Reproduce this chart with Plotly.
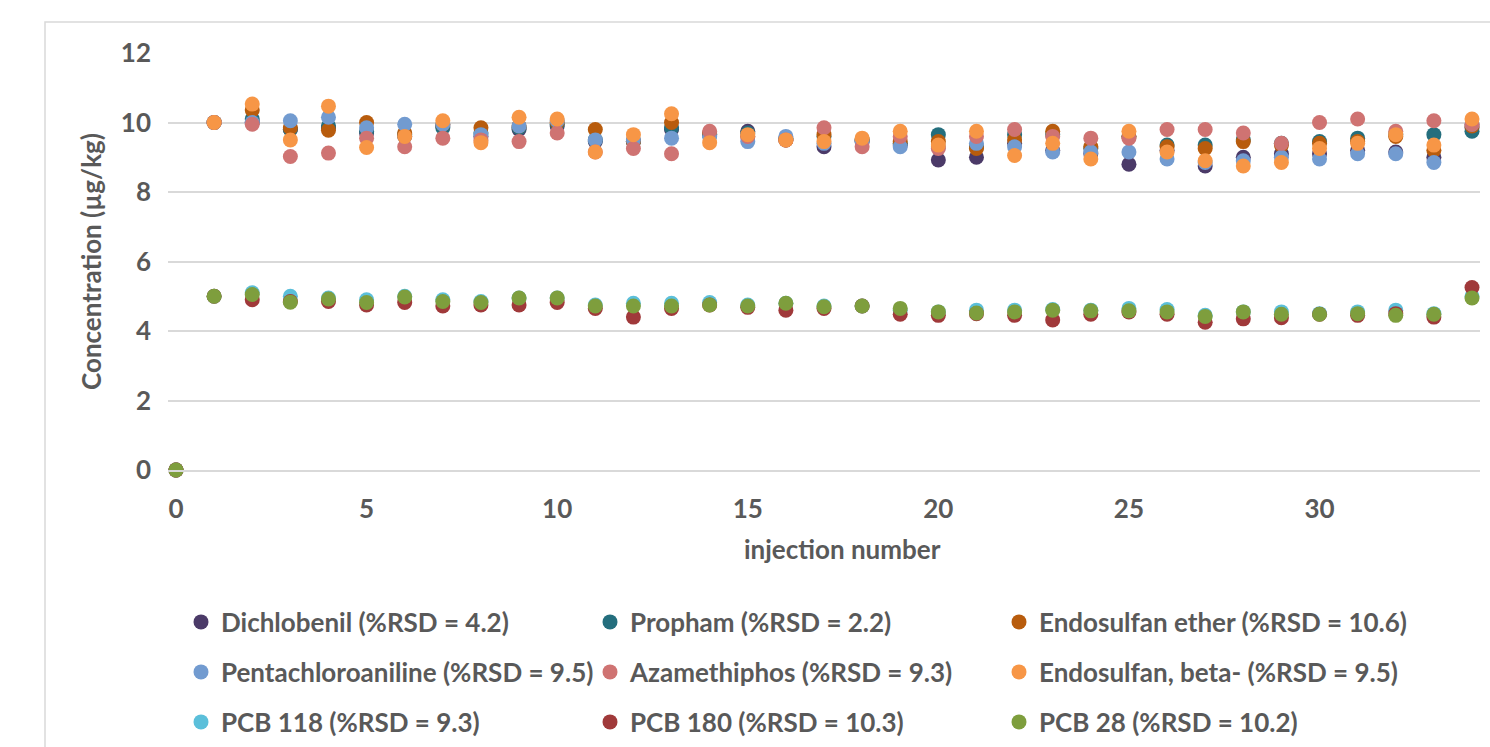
import plotly.graph_objects as go

injection = list(range(35))

dichlobenil = [0, 10.0, 10.0, 9.8, 9.85, 9.7, 9.6, 9.9, 9.6, 9.8, 9.9, 9.45, 9.45, 9.8, 9.65, 9.75,
               9.5, 9.3, 9.45, 9.35, 8.92, 9.0, 9.4, 9.2, 9.1, 8.8, 9.2, 8.75, 9.0, 9.1, 9.1, 9.2,
               9.15, 9.0, 9.85]
propham = [0, 10.0, 10.1, 9.8, 9.9, 9.75, 9.65, 9.85, 9.7, 9.85, 9.95, 9.5, 9.45, 9.85, 9.65, 9.7,
           9.55, 9.6, 9.5, 9.4, 9.65, 9.3, 9.65, 9.65, 9.25, 9.6, 9.35, 9.35, 9.5, 9.4, 9.45, 9.55,
           9.65, 9.65, 9.75]
endosulfan_ether = [0, 10.0, 10.36, 9.85, 9.78, 10.0, 9.7, 9.95, 9.85, 9.9, 10.0, 9.8, 9.45, 10.0, 9.7, 9.6,
                    9.5, 9.65, 9.5, 9.45, 9.45, 9.25, 9.5, 9.75, 9.3, 9.6, 9.3, 9.25, 9.45, 9.35, 9.4, 9.45,
                    9.6, 9.2, 9.9]
pentachloroaniline = [0, 10.0, 10.0, 10.05, 10.15, 9.85, 9.95, 9.95, 9.65, 9.9, 10.05, 9.5, 9.5, 9.55, 9.6, 9.45,
                      9.6, 9.4, 9.45, 9.3, 9.3, 9.4, 9.3, 9.15, 9.15, 9.15, 8.95, 8.85, 8.9, 9.0, 8.95, 9.1,
                      9.1, 8.85, 9.95]
azamethiphos = [0, 10.0, 9.95, 9.02, 9.12, 9.55, 9.3, 9.55, 9.5, 9.45, 9.7, 9.15, 9.25, 9.1, 9.75, 9.6,
                9.5, 9.85, 9.3, 9.6, 9.25, 9.6, 9.8, 9.6, 9.55, 9.55, 9.8, 9.8, 9.7, 9.4, 10.0, 10.1,
                9.75, 10.05, 9.95]
endosulfan_beta = [0, 10.0, 10.53, 9.5, 10.47, 9.28, 9.6, 10.05, 9.42, 10.15, 10.1, 9.15, 9.65, 10.25, 9.42, 9.65,
                   9.5, 9.45, 9.55, 9.75, 9.35, 9.75, 9.05, 9.4, 8.95, 9.75, 9.15, 8.9, 8.75, 8.85, 9.25, 9.4,
                   9.65, 9.35, 10.1]
pcb118 = [0, 5.0, 5.1, 5.0, 4.95, 4.9, 5.0, 4.9, 4.85, 4.95, 4.95, 4.75, 4.8, 4.8, 4.82, 4.75,
          4.8, 4.72, 4.72, 4.6, 4.55, 4.6, 4.6, 4.62, 4.6, 4.65, 4.62, 4.45, 4.55, 4.55, 4.5, 4.55,
          4.6, 4.5, 5.0]
pcb180 = [0, 5.0, 4.9, 4.85, 4.85, 4.75, 4.82, 4.72, 4.75, 4.75, 4.82, 4.65, 4.4, 4.65, 4.75, 4.68,
          4.6, 4.65, 4.72, 4.48, 4.45, 4.5, 4.45, 4.32, 4.48, 4.55, 4.48, 4.25, 4.35, 4.38, 4.48, 4.45,
          4.5, 4.4, 5.25]
pcb28 = [0, 5.0, 5.05, 4.83, 4.92, 4.82, 4.98, 4.85, 4.82, 4.95, 4.95, 4.72, 4.72, 4.72, 4.75, 4.72,
         4.8, 4.7, 4.72, 4.65, 4.55, 4.52, 4.55, 4.6, 4.58, 4.58, 4.55, 4.42, 4.55, 4.48, 4.48, 4.5,
         4.45, 4.48, 4.95]

series_names = [
    "Dichlobenil (%RSD = 4.2)", "Propham (%RSD = 2.2)", "Endosulfan ether (%RSD = 10.6)",
    "Pentachloroaniline (%RSD = 9.5)", "Azamethiphos (%RSD = 9.3)", "Endosulfan, beta- (%RSD = 9.5)",
    "PCB 118 (%RSD = 9.3)", "PCB 180 (%RSD = 10.3)", "PCB 28 (%RSD = 10.2)",
]
series_values = [dichlobenil, propham, endosulfan_ether, pentachloroaniline, azamethiphos,
                 endosulfan_beta, pcb118, pcb180, pcb28]
colors = ["#4B3A68", "#246E7D", "#B85C0D", "#729BD0", "#CF7372", "#F79646",
          "#5BBFDA", "#A0393A", "#7E9E3D"]
legend_ids = ["legend", "legend", "legend", "legend2", "legend2", "legend2",
              "legend3", "legend3", "legend3"]

x_ticks = [0, 5, 10, 15, 20, 25, 30]
y_ticks = [0, 2, 4, 6, 8, 10, 12]

W, H = 1490, 747
L, R, T, B = 168, 1480, 53, 470
FONT = "Lato"
GREY = "#595959"

fig = go.Figure()
for name, vals, col, lg in zip(series_names, series_values, colors, legend_ids):
    fig.add_trace(go.Scatter(
        x=injection, y=vals, mode="markers", name=name, legend=lg,
        marker=dict(size=15, color=col, line=dict(width=0)),
        cliponaxis=False,
    ))

def py(pix):
    return (B - pix) / (B - T)

def px(pix):
    return (pix - L) / (R - L)

def cy(pix):
    return (H - pix) / H

def cx(pix):
    return pix / W

bold = lambda s: dict(family=FONT, size=s, color=GREY, weight="bold")

legend_common = dict(
    orientation="h", xanchor="left", yanchor="middle",
    xref="container", yref="container",
    font=bold(26),
    entrywidth=364, entrywidthmode="pixels", itemwidth=30,
    bgcolor="rgba(0,0,0,0)",
)

fig.update_layout(
    width=W, height=H,
    margin=dict(l=L, r=W - R, t=T, b=H - B, autoexpand=False),
    paper_bgcolor="white", plot_bgcolor="white",
    font=dict(family=FONT, color=GREY),
    xaxis=dict(
        range=[-0.21, 34.21], tickvals=x_ticks,
        showgrid=False, zeroline=False, showline=True, linecolor="#D9D9D9", linewidth=1.5,
        ticks="", tickfont=bold(26),
        ticklabelstandoff=15,
    ),
    yaxis=dict(
        range=[0, 12], tickvals=y_ticks,
        showgrid=True, gridcolor="#D9D9D9", gridwidth=1.5, zeroline=False, showline=False,
        ticks="", tickfont=bold(26),
        ticklabelstandoff=16,
        title=dict(text="Concentration (µg/kg)", font=bold(26), standoff=11),
    ),
    annotations=[dict(text="injection number", xref="paper", yref="paper",
                      x=px(842), y=py(549), xanchor="center", yanchor="middle",
                      showarrow=False, font=bold(26))],
    legend=dict(x=cx(181), y=cy(622), **legend_common),
    legend2=dict(x=cx(181), y=cy(672), **legend_common),
    legend3=dict(x=cx(181), y=cy(722), **legend_common),
    shapes=[dict(type="rect", xref="paper", yref="paper",
                 x0=px(45), x1=px(1540), y0=py(22), y1=py(800),
                 line=dict(color="#D9D9D9", width=1.5), fillcolor="rgba(0,0,0,0)", layer="below")],
    showlegend=True,
)

fig.write_html("out.html")
